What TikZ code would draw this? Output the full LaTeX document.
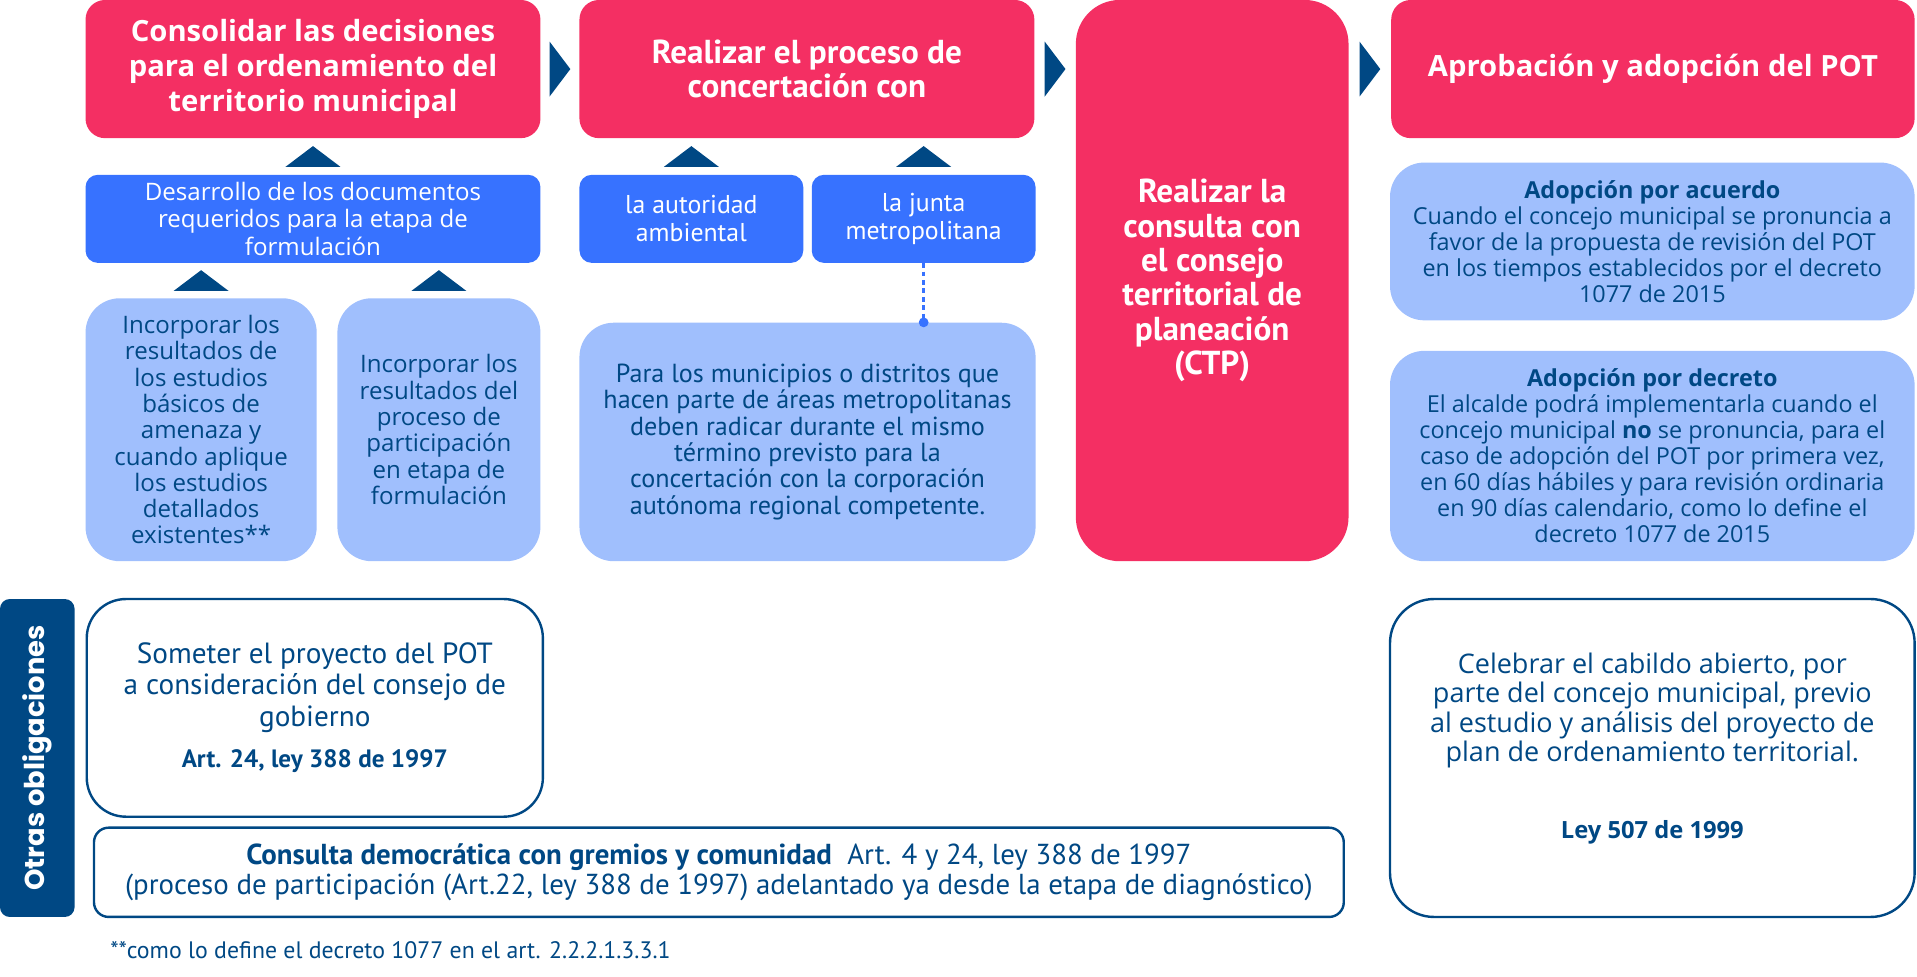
\documentclass[tikz,border=0pt]{standalone}
\usepackage{fontspec}
\setmainfont{Open Sans}
\newfontfamily\condfont{PT Sans}
\newfontfamily\geofont{Poppins}
\usetikzlibrary{calc}
\usepackage{xcolor}
\definecolor{potpink}{HTML}{F42F63}
\definecolor{potblue}{HTML}{3772FF}
\definecolor{potlight}{HTML}{A0BFFD}
\definecolor{potdark}{HTML}{004884}

\begin{document}
\begin{tikzpicture}[x=0.025cm, y=-0.025cm]
\tikzset{box/.style = {rectangle, inner sep=0pt, align=center}}
\tikzset{pinkbox/.style = {box, fill=potpink, text=white, rounded corners=0.4cm}}
\tikzset{bluebox/.style = {box, fill=potblue, text=white, rounded corners=0.25cm}}
\tikzset{lightbox/.style = {box, fill=potlight, text=potdark, rounded corners=0.7cm}}
\tikzset{linebox/.style = {box, draw=potdark, line width=1.4pt, fill=white, text=potdark, rounded corners=0.8cm}}
\tikzset{headtext/.style = {font=\fontsize{17}{20.3}\selectfont\bfseries}}
\tikzset{condhead/.style = {font=\condfont\fontsize{19.3}{20}\selectfont\bfseries}}
\tikzset{tipfill/.style = {fill=potdark}}
\tikzset{dashline/.style = {draw=potblue, line width=1.4pt, dash pattern=on 2.8pt off 2.1pt}}
\tikzset{dotnode/.style = {circle, fill=potblue, inner sep=0pt, minimum size=0.2cm}}

\useasboundingbox (0,0) rectangle (1568,799);

\node[pinkbox, headtext, minimum width=9.3cm, minimum height=2.825cm] (consolidar) at (256,56.5) {Consolidar las decisiones\\para el ordenamiento del\\territorio municipal};
\node[pinkbox, condhead, minimum width=9.3cm, minimum height=2.825cm] (concertar) at (660,56.5) {Realizar el proceso de\\concertación con};
\node[pinkbox, condhead, rounded corners=0.9cm, minimum width=5.575cm, minimum height=11.475cm] (consultactp) at (991.5,229.5) {Realizar la\\consulta con\\el consejo\\territorial de\\planeación\\(CTP)};
\node[pinkbox, headtext, minimum width=10.7cm, minimum height=2.825cm] (aprobacion) at (1352,56.5) {Aprobación y adopción del POT};

\node[bluebox, font=\fontsize{14}{16}\selectfont, minimum width=9.3cm, minimum height=1.8cm] (desarrollo) at (256,179) {Desarrollo de los documentos\\requeridos para la etapa de\\formulación};
\node[bluebox, font=\condfont\fontsize{15}{16.4}\selectfont, minimum width=4.575cm, minimum height=1.8cm] (autoridad) at (565.5,179) {la autoridad\\ambiental};
\node[bluebox, font=\condfont\fontsize{15}{16.4}\selectfont, minimum width=4.575cm, minimum height=1.8cm] (junta) at (755.5,179) {la junta\\metropolitana};

\node[lightbox, font=\fontsize{14}{15.3}\selectfont, minimum width=4.725cm, minimum height=5.375cm] (incorp1) at (164.5,351.5) {Incorporar los\\resultados de\\los estudios\\básicos de\\amenaza y\\cuando aplique\\los estudios\\detallados\\existentes**};
\node[lightbox, font=\fontsize{14}{15.3}\selectfont, minimum width=4.15cm, minimum height=5.375cm] (incorp2) at (359,351.5) {Incorporar los\\resultados del\\proceso de\\participación\\en etapa de\\formulación};
\node[lightbox, font=\condfont\fontsize{15.2}{15.3}\selectfont, minimum width=9.325cm, minimum height=4.875cm] (metropol) at (660.5,361.5) {Para los municipios o distritos que\\hacen parte de áreas metropolitanas\\deben radicar durante el mismo\\término previsto para la\\concertación con la corporación\\autónoma regional competente.};

\node[lightbox, font=\fontsize{13.6}{15.1}\selectfont, minimum width=10.725cm, minimum height=3.225cm] (acuerdo) at (1351.5,197.5) {\textbf{Adopción por acuerdo}\\Cuando el concejo municipal se pronuncia a\\favor de la propuesta de revisión del POT\\en los tiempos establecidos por el decreto\\1077 de 2015};
\node[lightbox, font=\fontsize{13.6}{15.1}\selectfont, minimum width=10.725cm, minimum height=4.3cm] (decreto) at (1351.5,373) {\textbf{Adopción por decreto}\\El alcalde podrá implementarla cuando el\\concejo municipal \textbf{no} se pronuncia, para el\\caso de adopción del POT por primera vez,\\en 60 días hábiles y para revisión ordinaria\\en 90 días calendario, como lo define el\\decreto 1077 de 2015};

\node[box, fill=potdark, text=white, rounded corners=0.2cm, rotate=90, minimum width=6.5cm, minimum height=1.525cm, font=\geofont\fontsize{15.9}{18}\selectfont\bfseries] (otras) at (30.5,620) {Otras obligaciones};
\node[linebox, font=\condfont\fontsize{17}{18.1}\selectfont, minimum width=9.325cm, minimum height=4.45cm] (someter) at (257.5,579) {Someter el proyecto del POT\\a consideración del consejo de\\gobierno\\[6pt]{\fontsize{14.6}{16}\selectfont\bfseries Art. 24, ley 388 de 1997}};
\node[linebox, rounded corners=0.3cm, font=\condfont\fontsize{16.8}{17.8}\selectfont, minimum width=25.55cm, minimum height=1.825cm] (democratica) at (588,713.5) {\textbf{Consulta democrática con gremios y comunidad}\ \ Art. 4 y 24, ley 388 de 1997\\(proceso de participación (Art.22, ley 388 de 1997) adelantado ya desde la etapa de diagnóstico)};
\node[linebox, rounded corners=0.9cm, font=\fontsize{15.7}{17}\selectfont, minimum width=10.725cm, minimum height=6.5cm, text depth=14pt] (cabildo) at (1351.5,620) {Celebrar el cabildo abierto, por\\parte del concejo municipal, previo\\al estudio y análisis del proyecto de\\plan de ordenamiento territorial.\\[28pt]{\fontsize{13.8}{16}\selectfont\bfseries Ley 507 de 1999}};

\node[anchor=west, text=potdark, inner sep=0pt, font=\condfont\fontsize{13.85}{15}\selectfont] (nota) at (90,777) {**como lo define el decreto 1077 en el art. 2.2.2.1.3.3.1};

%arrows
\coordinate (up1) at ($(consolidar.south)!0.5!(desarrollo.north)$);
\coordinate (up2) at ($(desarrollo.south -| incorp1.north)!0.5!(incorp1.north)$);
\coordinate (up3) at ($(desarrollo.south -| incorp2.north)!0.5!(incorp2.north)$);
\coordinate (up4) at ($(concertar.south -| autoridad.north)!0.5!(autoridad.north)$);
\coordinate (up5) at ($(concertar.south -| junta.north)!0.5!(junta.north)$);
\coordinate (right1) at ($(consolidar.east)!0.5!(concertar.west)$);
\coordinate (right2) at ($(concertar.east)!0.5!(concertar.east -| consultactp.west)$);
\coordinate (right3) at ($(consultactp.east |- aprobacion.west)!0.5!(aprobacion.west)$);

\fill[tipfill] ($(up1)+(-22.5,8.5)$) -- ($(up1)+(22.5,8.5)$) -- ($(up1)+(0,-8.5)$) -- cycle;
\fill[tipfill] ($(up2)+(-22.5,8.5)$) -- ($(up2)+(22.5,8.5)$) -- ($(up2)+(0,-8.5)$) -- cycle;
\fill[tipfill] ($(up3)+(-22.5,8.5)$) -- ($(up3)+(22.5,8.5)$) -- ($(up3)+(0,-8.5)$) -- cycle;
\fill[tipfill] ($(up4)+(-22.5,8.5)$) -- ($(up4)+(22.5,8.5)$) -- ($(up4)+(0,-8.5)$) -- cycle;
\fill[tipfill] ($(up5)+(-22.5,8.5)$) -- ($(up5)+(22.5,8.5)$) -- ($(up5)+(0,-8.5)$) -- cycle;
\fill[tipfill] ($(right1)+(-8.5,-22.5)$) -- ($(right1)+(-8.5,22.5)$) -- ($(right1)+(8.5,0)$) -- cycle;
\fill[tipfill] ($(right2)+(-8.5,-22.5)$) -- ($(right2)+(-8.5,22.5)$) -- ($(right2)+(8.5,0)$) -- cycle;
\fill[tipfill] ($(right3)+(-8.5,-22.5)$) -- ($(right3)+(-8.5,22.5)$) -- ($(right3)+(8.5,0)$) -- cycle;

\draw[dashline] (junta.south) -- (junta.south |- metropol.north) node[dotnode]{};

\end{tikzpicture}
\end{document}
